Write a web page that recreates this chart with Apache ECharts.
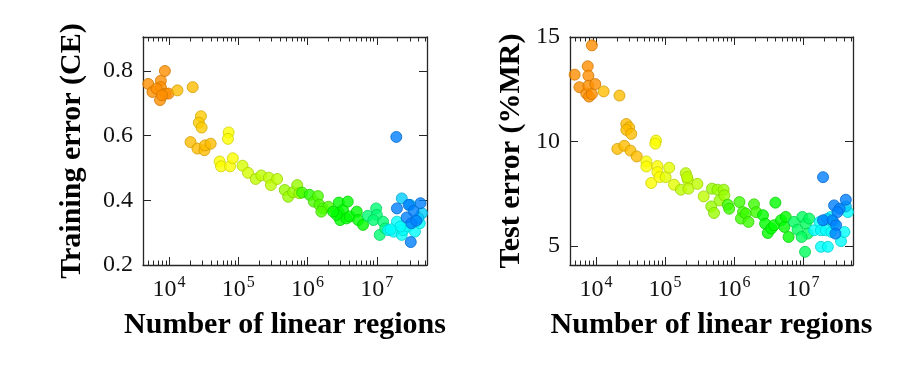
<!DOCTYPE html>
<html>
<head>
<meta charset="utf-8">
<script src="https://cdn.jsdelivr.net/npm/echarts@6/dist/echarts.min.js"></script>
<style>
html,body{margin:0;padding:0;background:#fff;}
#chart{width:915px;height:374px;}
</style>
</head>
<body>
<div id="chart"></div>
<script>
// ---- Data: training error (CE) vs number of linear regions ----
var trainX = [5.0e3,5.75e3,7.4e3,7.6e3,7.6e3,8.7e3,8.9e3,9.8e3,6.6e3,7.9e3,
  1.32e4,2.19e4,2.88e4,2.69e4,2.95e4,2.04e4,2.57e4,3.24e4,3.31e4,3.98e4,
  7.24e4,7.08e4,5.37e4,5.62e4,7.59e4,8.32e4,
  1.15e5,1.38e5,1.78e5,2.14e5,2.75e5,2.95e5,3.63e5,
  4.68e5,5.25e5,6.17e5,7.08e5,7.59e5,8.32e5,1.07e6,
  1.23e6,1.41e6,1.48e6,1.66e6,2.0e6,1.58e6,
  2.82e6,2.82e6,2.95e6,3.24e6,3.80e6,3.63e6,4.07e6,5.13e6,5.37e6,6.31e6,2.63e6,2.34e6,
  7.41e6,9.77e6,1.0e7,8.91e6,1.10e7,1.23e7,1.32e7,
  1.45e7,1.74e7,1.95e7,2.29e7,2.40e7,2.82e7,3.55e7,4.17e7,2.19e7,1.58e7,
  2.29e7,3.02e7,4.47e7,3.98e7,
  1.91e7,1.95e7,2.88e7,3.39e7,2.69e7,3.16e7,3.72e7,4.27e7,3.09e7];
var trainY = [0.76,0.735,0.71,0.77,0.75,0.80,0.73,0.73,0.745,0.725,
  0.74,0.75,0.66,0.64,0.625,0.58,0.56,0.555,0.57,0.575,
  0.61,0.59,0.52,0.505,0.505,0.53,
  0.507,0.485,0.466,0.477,0.47,0.447,0.466,
  0.432,0.411,0.425,0.447,0.422,0.424,0.417,
  0.396,0.413,0.386,0.375,0.38,0.365,
  0.393,0.362,0.339,0.37,0.396,0.344,0.35,0.365,0.339,0.324,0.355,0.365,
  0.352,0.375,0.355,0.339,0.293,0.334,0.313,
  0.308,0.303,0.334,0.293,0.308,0.319,0.303,0.329,0.319,0.31,
  0.406,0.386,0.36,0.345,
  0.596,0.375,0.386,0.367,0.347,0.329,0.337,0.391,0.271];
var trainC = [0.02,0.02,0.02,0.02,0.02,0.02,0.02,0.02,0.02,0.02,
  0.08,0.08,0.1,0.1,0.1,0.08,0.08,0.08,0.08,0.08,
  0.17,0.17,0.17,0.17,0.17,0.17,
  0.22,0.22,0.25,0.25,0.25,0.25,0.25,
  0.3,0.3,0.3,0.3,0.3,0.42,0.45,
  0.4,0.4,0.4,0.4,0.4,0.4,
  0.5,0.5,0.5,0.5,0.5,0.5,0.5,0.5,0.5,0.5,0.5,0.5,
  0.65,0.65,0.65,0.65,0.65,0.65,0.65,
  0.83,0.83,0.83,0.83,0.83,0.83,0.83,0.83,0.83,0.83,
  0.9,0.9,0.9,0.9,
  1,1,1,1,1,1,1,1,1];

// ---- Data: test error (%MR) vs number of linear regions ----
var testX = [4.9e3,5.75e3,7.24e3,7.59e3,7.76e3,7.76e3,7.94e3,8.71e3,8.71e3,9.77e3,
  1.29e4,2.19e4,
  2.04e4,2.57e4,2.75e4,3.02e4,2.75e4,3.24e4,3.16e4,3.89e4,
  7.41e4,7.24e4,5.37e4,5.37e4,6.31e4,7.76e4,7.76e4,8.32e4,
  1.02e5,1.15e5,1.35e5,
  1.70e5,2.0e5,2.14e5,2.19e5,2.09e5,2.95e5,3.63e5,
  4.79e5,4.68e5,5.13e5,5.75e5,6.17e5,7.08e5,7.24e5,
  8.13e5,8.51e5,1.20e6,1.35e6,1.26e6,1.48e6,1.62e6,1.95e6,2.09e6,
  2.63e6,2.82e6,3.09e6,3.47e6,3.80e6,3.98e6,4.79e6,5.37e6,5.62e6,6.17e6,
  7.41e6,8.32e6,9.77e6,1.10e7,1.07e7,1.23e7,1.17e7,9.55e6,
  1.45e7,1.74e7,1.82e7,1.82e7,2.29e7,2.14e7,2.57e7,2.82e7,3.55e7,3.98e7,4.47e7,2.51e7,
  2.24e7,4.17e7,
  1.95e7,1.95e7,2.82e7,3.39e7,4.17e7,2.69e7,3.02e7,2.95e7,3.16e7];
var testY = [13.2,12.6,12.3,13.6,13.15,12.67,12.15,14.6,12.27,12.75,
  12.4,12.2,
  9.65,9.8,10.84,10.68,10.56,10.37,9.57,9.29,
  10.05,9.9,9.05,8.81,8.02,8.83,8.54,8.30,
  8.30,8.75,7.94,
  7.70,8.49,8.17,7.75,8.30,7.98,7.38,
  7.75,6.90,6.59,7.70,7.19,7.70,7.43,
  6.98,6.79,7.11,6.63,6.32,6.56,6.16,7.00,6.63,
  6.48,6.08,5.63,5.84,6.00,7.08,6.24,5.92,6.40,5.44,
  6.16,5.79,6.40,6.08,4.73,6.32,5.60,5.44,
  5.76,6.16,5.76,4.97,4.97,5.76,5.68,6.08,5.24,5.68,6.63,6.40,
  6.3,6.9,
  8.30,6.24,6.95,6.79,7.22,6.24,6.00,5.60,6.63];
var testC = [0.02,0.02,0.02,0.02,0.02,0.02,0.02,0.02,0.02,0.02,
  0.08,0.08,
  0.08,0.08,0.08,0.08,0.08,0.08,0.08,0.08,
  0.17,0.17,0.17,0.17,0.17,0.17,0.17,0.17,
  0.2,0.2,0.2,
  0.25,0.25,0.25,0.25,0.25,0.25,0.25,
  0.3,0.3,0.3,0.3,0.3,0.3,0.3,
  0.42,0.42,0.42,0.42,0.42,0.42,0.42,0.42,0.42,
  0.5,0.5,0.5,0.5,0.5,0.5,0.5,0.5,0.5,0.5,
  0.62,0.62,0.62,0.62,0.62,0.62,0.62,0.62,
  0.83,0.83,0.83,0.83,0.83,0.83,0.83,0.83,0.83,0.83,0.83,0.83,
  0.9,0.9,
  1,1,1,1,1,1,1,1,1];

// ---- Axis tick values ----
var xMajorTicks = [1e4,1e5,1e6,1e7];
var trainYTicks = [0.2,0.4,0.6,0.8];
var testYTicks = [5,10,15];

// ---- helpers ----
function hsv(h, s, v) {
  var c = v * s, hp = h / 60, x = c * (1 - Math.abs(hp % 2 - 1)), r = 0, g = 0, b = 0;
  if (hp < 1) { r = c; g = x; } else if (hp < 2) { r = x; g = c; } else if (hp < 3) { g = c; b = x; }
  else if (hp < 4) { g = x; b = c; } else if (hp < 5) { r = x; b = c; } else { r = c; b = x; }
  var m = v - c;
  function hx(u) { var t = Math.round((u + m) * 255).toString(16); return t.length < 2 ? '0' + t : t; }
  return '#' + hx(r) + hx(g) + hx(b);
}
function buildData(xs, ys, cs) {
  return xs.map(function (x, i) {
    var h = 30 + 180 * cs[i];
    return { value: [x, ys[i]], itemStyle: { color: hsv(h, 1, 1), borderColor: hsv(h, 1, 0.82) } };
  });
}
var xMinorTicks = [];
for (var d = 3; d <= 7; d++) for (var k = 2; k <= 9; k++) xMinorTicks.push(k * Math.pow(10, d));

var XMIN = 4200, XMAX = 5.3e7;
var FRAME = '#262626';
var SERIF = 'Liberation Serif';

function xAxes(gi, name) {
  var base = { type: 'log', logBase: 10, gridIndex: gi, min: XMIN, max: XMAX, splitLine: { show: false } };
  return [
    Object.assign({}, base, {
      position: 'bottom',
      axisLine: { show: true, lineStyle: { color: FRAME, width: 1.3 } },
      axisTick: { show: true, inside: true, length: 8, customValues: xMajorTicks, lineStyle: { color: FRAME, width: 1 } },
      axisLabel: {
        show: true, customValues: xMajorTicks, margin: 10,
        formatter: function (v) { return '{b|10}{s|' + Math.round(Math.log10(v)) + '}'; },
        rich: {
          b: { fontFamily: SERIF, fontSize: 24, color: '#111', verticalAlign: 'bottom', lineHeight: 27 },
          s: { fontFamily: SERIF, fontSize: 16, color: '#111', verticalAlign: 'top', lineHeight: 27, padding: [0, 0, 0, 1] }
        }
      },
      name: name, nameLocation: 'middle', nameGap: 45,
      nameTextStyle: { fontFamily: SERIF, fontWeight: 'bold', fontSize: 30, color: '#000' }
    }),
    Object.assign({}, base, {
      position: 'bottom',
      axisLine: { show: false },
      axisTick: { show: true, inside: true, length: 4.5, customValues: xMinorTicks, lineStyle: { color: FRAME, width: 1 } },
      axisLabel: { show: false }
    }),
    Object.assign({}, base, {
      position: 'top',
      axisLine: { show: true, lineStyle: { color: FRAME, width: 1.3 } },
      axisTick: { show: true, inside: true, length: 8, customValues: xMajorTicks, lineStyle: { color: FRAME, width: 1 } },
      axisLabel: { show: false }
    }),
    Object.assign({}, base, {
      position: 'top',
      axisLine: { show: false },
      axisTick: { show: true, inside: true, length: 4.5, customValues: xMinorTicks, lineStyle: { color: FRAME, width: 1 } },
      axisLabel: { show: false }
    })
  ];
}
function yAxes(gi, min, max, ticks, name, gap) {
  var base = { type: 'value', gridIndex: gi, min: min, max: max, splitLine: { show: false } };
  return [
    Object.assign({}, base, {
      position: 'left',
      axisLine: { show: true, lineStyle: { color: FRAME, width: 1.3 } },
      axisTick: { show: true, inside: true, length: 8, customValues: ticks, lineStyle: { color: FRAME, width: 1 } },
      axisLabel: { show: true, customValues: ticks, margin: 10, fontFamily: SERIF, fontSize: 24, color: '#111' },
      name: name, nameLocation: 'middle', nameGap: gap, nameRotate: 90,
      nameTextStyle: { fontFamily: SERIF, fontWeight: 'bold', fontSize: 30, color: '#000' }
    }),
    Object.assign({}, base, {
      position: 'right',
      axisLine: { show: true, lineStyle: { color: FRAME, width: 1.3 } },
      axisTick: { show: true, inside: true, length: 8, customValues: ticks, lineStyle: { color: FRAME, width: 1 } },
      axisLabel: { show: false }
    })
  ];
}

var chart = echarts.init(document.getElementById('chart'), null, { renderer: 'canvas' });
var option = {
  animation: false,
  backgroundColor: '#fff',
  grid: [
    { left: 143, top: 37, width: 284, height: 228 },
    { left: 570, top: 37, width: 283, height: 228 }
  ],
  xAxis: xAxes(0, 'Number of linear regions').concat(xAxes(1, 'Number of linear regions')),
  yAxis: yAxes(0, 0.2, 0.905, trainYTicks, 'Training error (CE)', 56)
    .concat(yAxes(1, 4.1, 15, testYTicks, 'Test error (%MR)', 44)),
  series: [
    {
      type: 'scatter', xAxisIndex: 0, yAxisIndex: 0, symbol: 'circle', symbolSize: 11,
      itemStyle: { borderWidth: 1 }, data: buildData(trainX, trainY, trainC)
    },
    {
      type: 'scatter', xAxisIndex: 4, yAxisIndex: 2, symbol: 'circle', symbolSize: 11,
      itemStyle: { borderWidth: 1 }, data: buildData(testX, testY, testC)
    }
  ]
};
chart.setOption(option);
</script>
</body>
</html>
